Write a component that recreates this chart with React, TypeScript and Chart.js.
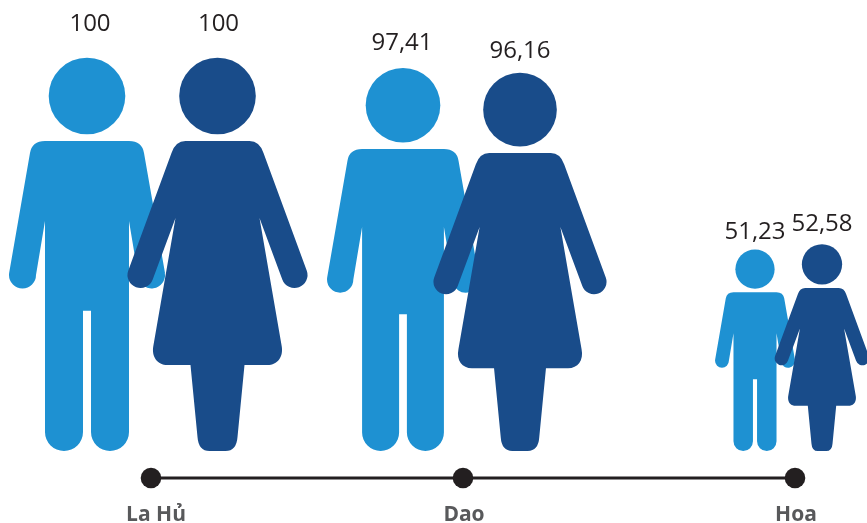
import React, { useEffect, useRef } from "react";
import { Chart, registerables } from "chart.js";

Chart.register(...registerables);

const groups = ["La Hủ", "Dao", "Hoa"];
const groupX = [151, 463, 795];
const groupLabelX = [156, 464, 796];
const maleValues = [100, 97.41, 51.23];
const femaleValues = [100, 96.16, 52.58];
const maleX = [87, 403, 755];
const femaleX = [217.5, 520, 822];
const maleLabelLift = [33, 24, 17];
const femaleLabelLift = [33, 21, 20];
const maleLabelShift = [3, -1, 0];
const femaleLabelShift = [1, 0, 0];
const axisLevel = -6.85;

const MALE = "#1e91d2";
const FEMALE = "#194c8a";
const INK = "#231f20";
const GREY = "#58595b";
const FIGURE_UNITS = 394;

function drawMale(c: CanvasRenderingContext2D) {
  c.beginPath();
  c.arc(0, -355, 38.3, 0, Math.PI * 2);
  c.fill();
  c.beginPath();
  c.moveTo(-42, -310);
  c.lineTo(42, -310);
  c.quadraticCurveTo(55, -310, 57, -298);
  c.lineTo(78, -178);
  c.arc(64.5, -176, 13.5, -0.15, Math.PI);
  c.lineTo(42, -230);
  c.lineTo(42, -19);
  c.arc(23, -19, 19, 0, Math.PI);
  c.lineTo(4, -140.3);
  c.lineTo(-4, -140.3);
  c.lineTo(-4, -19);
  c.arc(-23, -19, 19, 0, Math.PI);
  c.lineTo(-42, -230);
  c.lineTo(-51, -176);
  c.arc(-64.5, -176, 13.5, 0, Math.PI + 0.15);
  c.lineTo(-57, -298);
  c.quadraticCurveTo(-55, -310, -42, -310);
  c.closePath();
  c.fill();
}

function drawFemale(c: CanvasRenderingContext2D) {
  c.beginPath();
  c.arc(0, -355, 38.3, 0, Math.PI * 2);
  c.fill();
  const t = (20 * Math.PI) / 180;
  c.beginPath();
  c.moveTo(-32, -310);
  c.lineTo(32, -310);
  c.quadraticCurveTo(42, -310, 46, -298);
  c.lineTo(89.2, -180.4);
  c.arc(77, -176, 13, -t, Math.PI - t);
  c.lineTo(42, -233);
  c.lineTo(64, -106);
  c.bezierCurveTo(66.5, -94, 60, -86, 50, -86);
  c.lineTo(27, -86);
  c.lineTo(20, -14);
  c.quadraticCurveTo(19, 0, 8, 0);
  c.lineTo(-8, 0);
  c.quadraticCurveTo(-19, 0, -20, -14);
  c.lineTo(-27, -86);
  c.lineTo(-50, -86);
  c.bezierCurveTo(-60, -86, -66.5, -94, -64, -106);
  c.lineTo(-42, -233);
  c.lineTo(-64.8, -171.6);
  c.arc(-77, -176, 13, t, Math.PI + t);
  c.lineTo(-46, -298);
  c.quadraticCurveTo(-42, -310, -32, -310);
  c.closePath();
  c.fill();
}

const pictogramPlugin = {
  id: "pictogram",
  afterDatasetsDraw(chart: any) {
    const c: CanvasRenderingContext2D = chart.ctx;
    const base = chart.scales.y.getPixelForValue(0);
    chart.data.datasets.forEach((ds: any, di: number) => {
      if (!ds.figure) return;
      const points = chart.getDatasetMeta(di).data;
      points.forEach((pt: any, i: number) => {
        const s = (base - pt.y) / FIGURE_UNITS;
        c.save();
        c.translate(pt.x, base);
        c.scale(s, s);
        c.fillStyle = ds.figureColor;
        (ds.figure === "male" ? drawMale : drawFemale)(c);
        c.restore();
        c.save();
        c.fillStyle = INK;
        c.font = '24px "Open Sans", sans-serif';
        c.textAlign = "center";
        c.textBaseline = "middle";
        c.fillText(
          String(ds.data[i].y).replace(".", ","),
          pt.x + ds.labelShift[i],
          pt.y - ds.labelLift[i]
        );
        c.restore();
      });
    });
  },
};

export default function App() {
  const ref = useRef<HTMLCanvasElement>(null);
  useEffect(() => {
    const chart = new Chart(ref.current as HTMLCanvasElement, {
      type: "scatter",
      data: {
        datasets: [
          {
            data: groupX.map((x) => ({ x, y: axisLevel })),
            showLine: true,
            borderColor: INK,
            borderWidth: 3,
            pointRadius: 10.3,
            pointBackgroundColor: INK,
            pointBorderWidth: 0,
            clip: false,
          },
          {
            figure: "male",
            figureColor: MALE,
            labelLift: maleLabelLift,
            labelShift: maleLabelShift,
            data: maleX.map((x, i) => ({ x, y: maleValues[i] })),
            pointRadius: 0,
          },
          {
            figure: "female",
            figureColor: FEMALE,
            labelLift: femaleLabelLift,
            labelShift: femaleLabelShift,
            data: femaleX.map((x, i) => ({ x, y: femaleValues[i] })),
            pointRadius: 0,
          },
        ] as any,
      },
      options: {
        animation: false,
        responsive: false,
        layout: { padding: 0, autoPadding: false },
        plugins: { legend: { display: false }, tooltip: { enabled: false } },
        scales: {
          x: {
            type: "linear",
            min: 0,
            max: 867,
            grid: { display: false, drawTicks: false },
            border: { display: false },
            afterBuildTicks: (axis: any) => {
              axis.ticks = groupLabelX.map((value) => ({ value }));
            },
            afterFit: (axis: any) => {
              axis.height = 33;
            },
            ticks: {
              autoSkip: false,
              maxRotation: 0,
              padding: 12,
              color: GREY,
              font: { family: '"Open Sans", sans-serif', size: 21, weight: "bold" },
              callback: (value: any) => groups[groupLabelX.indexOf(Number(value))] ?? "",
            },
          },
          y: {
            type: "linear",
            display: false,
            min: -9.898,
            max: 114.467,
          },
        },
      },
      plugins: [pictogramPlugin],
    } as any);
    return () => chart.destroy();
  }, []);
  return (
    <div style={{ position: "absolute", left: 0, top: 0, width: 867, height: 523, background: "#fff" }}>
      <canvas ref={ref} width={867} height={523} style={{ display: "block" }} />
    </div>
  );
}
